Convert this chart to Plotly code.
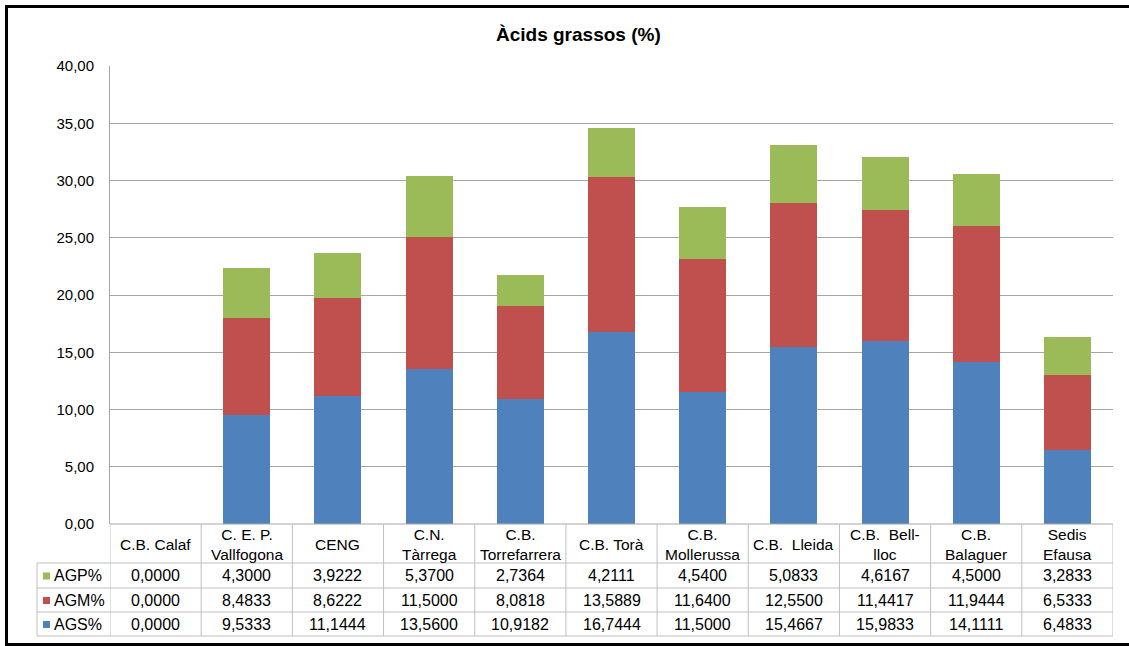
import plotly.graph_objects as go

# Fatty-acid composition per sample (%)
categories = ["C.B. Calaf", "C. E. P.<br>Vallfogona", "CENG", "C.N.<br>Tàrrega",
              "C.B.<br>Torrefarrera", "C.B. Torà", "C.B.<br>Mollerussa", "C.B.  Lleida",
              "C.B.  Bell-<br>lloc", "C.B.<br>Balaguer", "Sedis<br>Efausa"]
ags = [0.0, 9.5333, 11.1444, 13.5600, 10.9182, 16.7444, 11.5000, 15.4667, 15.9833, 14.1111, 6.4833]
agm = [0.0, 8.4833, 8.6222, 11.5000, 8.0818, 13.5889, 11.6400, 12.5500, 11.4417, 11.9444, 6.5333]
agp = [0.0, 4.3000, 3.9222, 5.3700, 2.7364, 4.2111, 4.5400, 5.0833, 4.6167, 4.5000, 3.2833]
y_ticks = [0, 5, 10, 15, 20, 25, 30, 35, 40]

W, H = 1129, 646
FONT = "Liberation Sans, Arial, sans-serif"
BLUE, RED, GREEN = "#4F81BD", "#C0504D", "#9BBB59"
GRID = "#A6A6A6"
TABLE = "#BFBFBF"

# plot area in pixels
PL, PR, PT, PB = 110, 1113, 66, 524


def px(x):
    return x / W


def py(y):
    return 1 - y / H


xs = list(range(len(categories)))
fig = go.Figure()
for name, vals, col in [("AGS%", ags, BLUE), ("AGM%", agm, RED), ("AGP%", agp, GREEN)]:
    fig.add_trace(go.Bar(x=xs, y=vals, name=name, marker=dict(color=col, line=dict(width=0)),
                         hoverinfo="y"))

fig.update_layout(
    width=W, height=H, barmode="stack", bargap=0.485,
    margin=dict(l=0, r=0, t=0, b=0),
    paper_bgcolor="white", plot_bgcolor="white",
    showlegend=False, separators=",.",
    font=dict(family=FONT, size=15, color="#000000"),
    xaxis=dict(domain=[px(PL), px(PR)], range=[-0.5, len(categories) - 0.5],
               showticklabels=False, showgrid=False, zeroline=False, showline=False,
               automargin=False),
    yaxis=dict(domain=[py(PB), py(PT)], range=[0, 40], tickvals=y_ticks, tickformat=".2f",
               showgrid=True, gridcolor=GRID, gridwidth=1, zeroline=False,
               showline=True, linecolor=GRID, linewidth=1,
               ticks="outside", ticklen=12, tickcolor="rgba(0,0,0,0)",
               tickfont=dict(size=15, family=FONT), automargin=False),
)

shapes = []
annotations = []

# chart title
annotations.append(dict(x=px(578), y=py(35), xref="paper", yref="paper",
                        text="<b>Àcids grassos (%)</b>", showarrow=False,
                        xanchor="center", yanchor="middle",
                        font=dict(size=19, family=FONT, color="#000000")))

# data table below the plot
row_edges = [524, 563, 588, 612, 636]
series_rows = [("AGP%", agp, GREEN), ("AGM%", agm, RED), ("AGS%", ags, BLUE)]
TL = 37

line = dict(color=TABLE, width=1)
# horizontal lines
shapes.append(dict(type="line", xref="paper", yref="paper", x0=px(PL), x1=px(PR),
                   y0=py(row_edges[0]), y1=py(row_edges[0]), line=dict(color=GRID, width=1)))
for ye in row_edges[1:]:
    shapes.append(dict(type="line", xref="paper", yref="paper", x0=px(TL), x1=px(PR),
                       y0=py(ye), y1=py(ye), line=line))
# vertical lines between categories
for i in range(len(categories) + 1):
    shapes.append(dict(type="line", xref="x", yref="paper", x0=i - 0.5, x1=i - 0.5,
                       y0=py(row_edges[0]), y1=py(row_edges[-1]), line=line))
# left edge of the series-name column
shapes.append(dict(type="line", xref="paper", yref="paper", x0=px(TL), x1=px(TL),
                   y0=py(row_edges[1]), y1=py(row_edges[-1]), line=line))

# category header row
for i, cat in enumerate(categories):
    annotations.append(dict(x=i, y=py((row_edges[0] + row_edges[1]) / 2 + 0.5), xref="x",
                            yref="paper", text=cat, showarrow=False,
                            xanchor="center", yanchor="middle",
                            font=dict(size=15.5, family=FONT, color="#000000")))

# value rows with legend keys
for r, (name, vals, col) in enumerate(series_rows):
    yc = (row_edges[r + 1] + row_edges[r + 2]) / 2
    shapes.append(dict(type="rect", xref="paper", yref="paper", x0=px(43), x1=px(50),
                       y0=py(yc - 3), y1=py(yc + 4), fillcolor=col, line=dict(width=0)))
    annotations.append(dict(x=px(52), y=py(yc), xref="paper", yref="paper", text=name,
                            showarrow=False, xanchor="left", yanchor="middle",
                            font=dict(size=16, family=FONT, color="#000000")))
    for i, v in enumerate(vals):
        annotations.append(dict(x=i, y=py(yc), xref="x", yref="paper",
                                text=f"{v:.4f}".replace(".", ","), showarrow=False,
                                xanchor="center", yanchor="middle",
                                font=dict(size=16, family=FONT, color="#000000")))

# outer frame of the chart
frame = dict(color="#000000", width=3)
shapes.append(dict(type="line", xref="paper", yref="paper", x0=px(6.5), x1=px(6.5),
                   y0=py(6.5), y1=py(H), line=frame))
shapes.append(dict(type="line", xref="paper", yref="paper", x0=px(5), x1=1,
                   y0=py(6.5), y1=py(6.5), line=frame))
shapes.append(dict(type="line", xref="paper", yref="paper", x0=px(5), x1=1,
                   y0=py(644.5), y1=py(644.5), line=frame))

fig.update_layout(shapes=shapes, annotations=annotations)
fig.write_html("out.html")
